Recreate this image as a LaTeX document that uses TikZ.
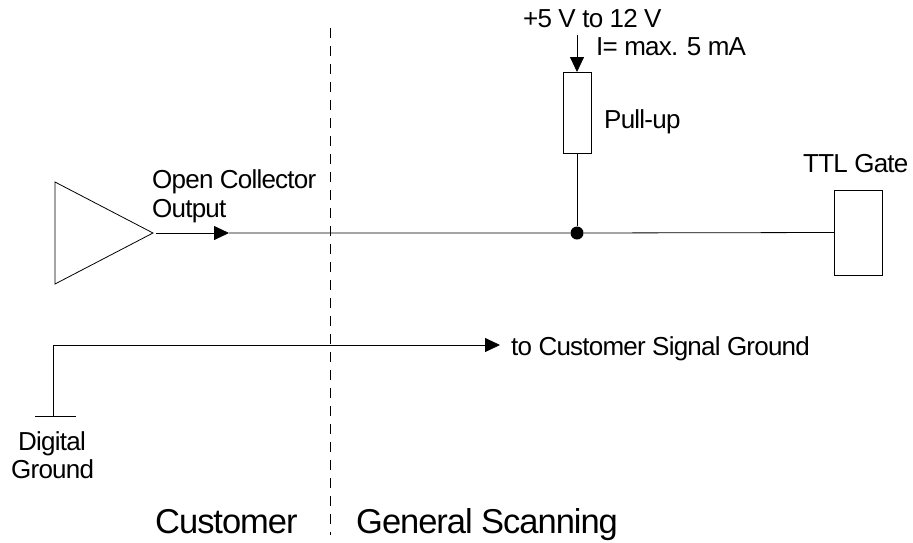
\documentclass[tikz,border=0pt]{standalone}
\usepackage{fontspec}
\setmainfont{Liberation Sans}
\newfontfamily\tightfont[LetterSpace=-3]{Liberation Sans}
\usetikzlibrary{arrows.meta}
\begin{document}
\begin{tikzpicture}[x=1pt,y=-1pt,
  wire/.style={line width=0.8pt,black},
  box/.style={draw,line width=0.8pt,inner sep=0pt,outer sep=0pt},
  lab/.style={anchor=base west,inner sep=0pt,font=\tightfont\fontsize{26}{28}\selectfont},
  biglab/.style={anchor=base west,inner sep=0pt,font=\tightfont\fontsize{34.5}{38}\selectfont},
  tipped/.style={-{Triangle[length=15pt,width=14pt]}},
]
\useasboundingbox (0,0) rectangle (913,542);
\fill[white] (0,0) rectangle (913,542);
% coordinates
\coordinate (dashtop) at (330,28);
\coordinate (dashend) at (330,535);
\coordinate (ta) at (55,182);
\coordinate (tb) at (55,284);
\coordinate (tc) at (153,233);
\coordinate (outstart) at (156,233);
\coordinate (outmid) at (229,233);
\coordinate (vcc) at (577,35);
\coordinate (gndcorner) at (53,345);
\coordinate (gndarrow) at (500,345);
\coordinate (gndtop) at (53,416);
\coordinate (gndl) at (35,416);
\coordinate (gndr) at (76,416);
% nodes
\node[box,minimum width=28pt,minimum height=81pt] (pull) at (577,112.5) {};
\node[box,minimum width=48pt,minimum height=85pt] (gate) at (858,232.5) {};
\node[circle,fill=black,inner sep=0pt,minimum size=13pt] (dot) at (577,233) {};
% lines
\draw[wire,dash pattern=on 10pt off 8pt] (dashtop) -- (dashend);
\draw[wire] (ta) -- (tc) -- (tb) -- cycle;
\draw[wire,tipped] (outstart) -- (outmid);
\draw[wire] (outmid) -- (dot) -- (gate.west);
\draw[wire,tipped] (vcc) -- (pull.north);
\draw[wire] (pull.south) -- (dot);
\draw[wire,tipped] (gndtop) -- (gndcorner) -- (gndarrow);
\draw[wire] (gndl) -- (gndr);
% labels
\node[lab] (l1) at (152,188) {Open Collector};
\node[lab] (l2) at (152,217) {Output};
\node[lab] (l3) at (523,27) {+5 V to 12 V};
\node[lab] (l4) at (596,55) {I= max. 5 mA};
\node[lab] (l5) at (604,128) {Pull-up};
\node[lab] (l6) at (803,172) {TTL Gate};
\node[lab] (l7) at (511,355) {to Customer Signal Ground};
\node[lab] (l8) at (18,450) {Digital};
\node[lab] (l9) at (11,478) {Ground};
\node[biglab] (l10) at (155,533) {Customer};
\node[biglab] (l11) at (356,533) {General Scanning};
\end{tikzpicture}
\end{document}
